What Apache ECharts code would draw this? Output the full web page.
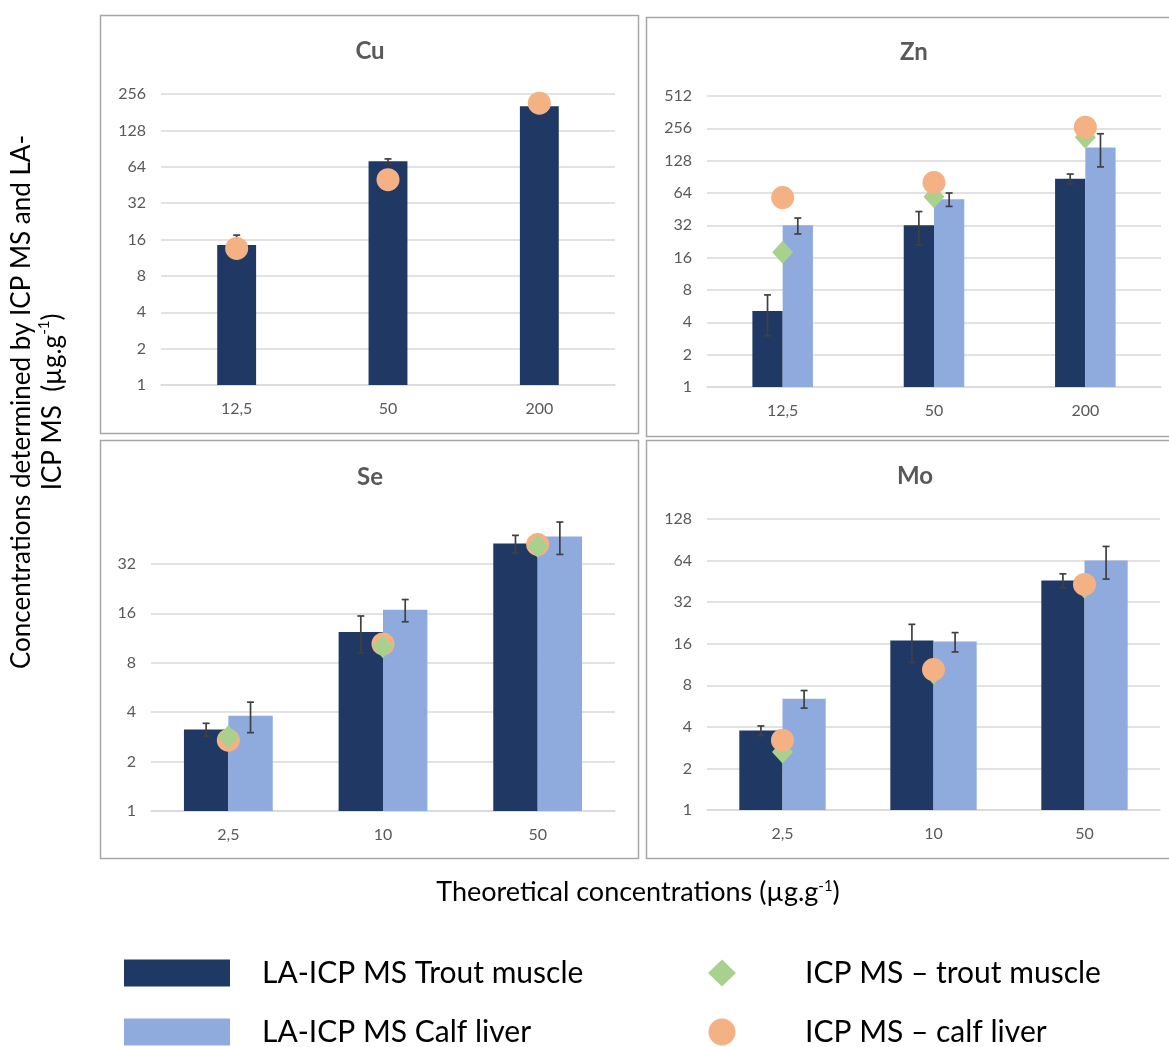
<!DOCTYPE html>
<html><head><meta charset="utf-8">
<script src="https://cdn.jsdelivr.net/npm/echarts@6/dist/echarts.min.js"></script>
<style>html,body{margin:0;padding:0;background:#fff}#c{width:1169px;height:1047px}</style>
</head><body><div id="c"></div>
<script>
// ---- data ----
const catsCuZn = ['12,5', '50', '200'];
const catsSeMo = ['2,5', '10', '50'];

const cuTrout = [14.4, 71, 203];
const cuTroutSd = [3.0, 3.3, 6];
const cuIcpCalf = [13.5, 50, 215];

const znTrout = [5.1, 32, 87];
const znTroutSd = [2.1, 11, 9];
const znCalf = [32, 56, 170];
const znCalfSd = [5.4, 8, 58];
const znIcpTrout = [18, 59, 212];
const znIcpCalf = [58, 80, 262];

const seTrout = [3.14, 12.3, 42.5];
const seTroutSd = [0.28, 3.1, 5.2];
const seCalf = [3.8, 16.8, 47];
const seCalfSd = [0.8, 2.6, 10.5];
const seIcpTrout = [2.83, 10.0, 41];
const seIcpCalf = [2.70, 10.4, 42];

const moTrout = [3.76, 16.9, 46];
const moTroutSd = [0.3, 5.2, 5.3];
const moCalf = [6.4, 16.6, 64];
const moCalfSd = [0.93, 2.65, 17];
const moIcpTrout = [2.63, 9.8, 41];
const moIcpCalf = [3.2, 10.4, 43];

const yMaxes = [256, 512, 60, 128];
const panelTitles = ['Cu', 'Zn', 'Se', 'Mo'];

// ---- styling ----
const FONT = 'Lato';
const NAVY = '#203864', LIGHT = '#8FAADC', GREEN = '#A9D18E', ORANGE = '#F4B183';
const GRID_C = '#D9D9D9', LABEL_C = '#595959', ERR_C = '#404040';
const N_TROUT = 'LA-ICP MS Trout muscle', N_CALF = 'LA-ICP MS Calf liver';
const N_ICP_T = 'ICP MS \u2013 trout muscle', N_ICP_C = 'ICP MS \u2013 calf liver';

const panels = [
  { cats: catsCuZn, grid: {left: 161, top: 94, width: 454, height: 291}, split: 8, frac: 0.257,
    trout: cuTrout, troutSd: cuTroutSd, calf: null, calfSd: null, icpT: null, icpC: cuIcpCalf,
    tpos: [370, 39], box: [100.5, 15.5, 538, 418], diamondTop: false },
  { cats: catsCuZn, grid: {left: 707, top: 96, width: 454, height: 291}, split: 9, frac: 0.20,
    trout: znTrout, troutSd: znTroutSd, calf: znCalf, calfSd: znCalfSd, icpT: znIcpTrout, icpC: znIcpCalf,
    tpos: [914, 40], box: [646.5, 17.5, 540, 419], diamondTop: false },
  { cats: catsSeMo, grid: {left: 151, top: 519, width: 464, height: 292}, split: 5, frac: 0.287,
    trout: seTrout, troutSd: seTroutSd, calf: seCalf, calfSd: seCalfSd, icpT: seIcpTrout, icpC: seIcpCalf,
    tpos: [370, 465], box: [100.5, 440.5, 538, 418], diamondTop: true },
  { cats: catsSeMo, grid: {left: 707, top: 519, width: 453, height: 291}, split: 7, frac: 0.286,
    trout: moTrout, troutSd: moTroutSd, calf: moCalf, calfSd: moCalfSd, icpT: moIcpTrout, icpC: moIcpCalf,
    tpos: [915, 464], box: [646.5, 440.5, 540, 418], diamondTop: false }
];

function errRender(offsetFrac) {
  return function (params, api) {
    const idx = api.value(0), v = api.value(1), sd = api.value(2);
    const band = api.coord([1, v])[0] - api.coord([0, v])[0];
    const x = api.coord([idx, v])[0] + offsetFrac * band;
    const yT = api.coord([idx, v + sd])[1];
    const yB = api.coord([idx, Math.max(v - sd, 1.0001)])[1];
    const c = 3.5;
    const st = {stroke: ERR_C, lineWidth: 1.7};
    return {type: 'group', children: [
      {type: 'line', shape: {x1: x, y1: yT, x2: x, y2: yB}, style: st},
      {type: 'line', shape: {x1: x - c, y1: yT, x2: x + c, y2: yT}, style: st},
      {type: 'line', shape: {x1: x - c, y1: yB, x2: x + c, y2: yB}, style: st}
    ]};
  };
}
function errData(vals, sds) { return vals.map((v, i) => [i, v, sds[i]]); }

const grids = [], xAxes = [], yAxes = [], series = [], titles = [], graphics = [];
panels.forEach((p, i) => {
  grids.push(p.grid);
  xAxes.push({type: 'category', gridIndex: i, data: p.cats,
    axisLine: {lineStyle: {color: GRID_C, width: 1.5}}, axisTick: {show: false},
    axisLabel: {color: LABEL_C, fontFamily: FONT, fontSize: 16, margin: 16}});
  yAxes.push({type: 'log', logBase: 2, gridIndex: i, min: 1, max: yMaxes[i], splitNumber: p.split,
    axisLine: {show: false}, axisTick: {show: false},
    axisLabel: {color: LABEL_C, fontFamily: FONT, fontSize: 16, margin: 15, showMaxLabel: i !== 2},
    splitLine: {show: true, showMaxLine: i !== 2, lineStyle: {color: GRID_C, width: 1.5}}});
  titles.push({text: panelTitles[i], left: p.tpos[0], top: p.tpos[1], textAlign: 'center', padding: 0,
    textStyle: {fontFamily: FONT, fontSize: 24, fontWeight: 'bold', color: LABEL_C}});
  graphics.push({type: 'rect', shape: {x: p.box[0], y: p.box[1], width: p.box[2], height: p.box[3]},
    style: {fill: 'none', stroke: '#A6A6A6', lineWidth: 1.5}, silent: true, z: -1});

  const two = !!p.calf;
  series.push({type: 'bar', name: N_TROUT, xAxisIndex: i, yAxisIndex: i, data: p.trout,
    barWidth: (p.frac * 100) + '%', barGap: '0%', itemStyle: {color: NAVY}, z: 2});
  if (two) series.push({type: 'bar', name: N_CALF, xAxisIndex: i, yAxisIndex: i, data: p.calf,
    barWidth: (p.frac * 100) + '%', barGap: '0%', itemStyle: {color: LIGHT}, z: 2});
  series.push({type: 'custom', name: N_TROUT, xAxisIndex: i, yAxisIndex: i,
    renderItem: errRender(two ? -p.frac / 2 : 0), data: errData(p.trout, p.troutSd),
    encode: {x: 0, y: 1}, z: 3, silent: true});
  if (two) series.push({type: 'custom', name: N_CALF, xAxisIndex: i, yAxisIndex: i,
    renderItem: errRender(p.frac / 2), data: errData(p.calf, p.calfSd),
    encode: {x: 0, y: 1}, z: 3, silent: true});
  if (p.icpT) series.push({type: 'scatter', name: N_ICP_T, xAxisIndex: i, yAxisIndex: i, data: p.icpT,
    symbol: 'diamond', symbolSize: [21, 23], itemStyle: {color: GREEN, opacity: 1}, z: p.diamondTop ? 6 : 4});
  series.push({type: 'scatter', name: N_ICP_C, xAxisIndex: i, yAxisIndex: i, data: p.icpC,
    symbol: 'circle', symbolSize: 23, itemStyle: {color: ORANGE, opacity: 1}, z: 5});
});

// axis titles
graphics.push({type: 'text', x: 37, y: 402, rotation: Math.PI / 2,
  style: {text: 'Concentrations determined by ICP MS and LA-\nICP MS  (\u00b5g.g{sup|-1})',
    rich: {sup: {fontSize: 15, verticalAlign: 'top', fontFamily: FONT, fill: '#000', padding: [0, 0, 10, 0]}},
    fontFamily: FONT, fontSize: 26, fill: '#000', align: 'center', verticalAlign: 'middle', lineHeight: 31}});
graphics.push({type: 'text', x: 638, y: 892,
  style: {text: 'Theoretical concentrations (\u00b5g.g{sup|-1})',
    rich: {sup: {fontSize: 15, verticalAlign: 'top', fontFamily: FONT, fill: '#000', padding: [0, 0, 10, 0]}},
    fontFamily: FONT, fontSize: 27, fill: '#000', align: 'center', verticalAlign: 'middle'}});

const chart = echarts.init(document.getElementById('c'), null, {renderer: 'canvas'});
chart.setOption({
  animation: false,
  backgroundColor: '#fff',
  title: titles,
  grid: grids,
  xAxis: xAxes,
  yAxis: yAxes,
  legend: [
    {orient: 'vertical', left: 124, top: 958, padding: 0, itemGap: 29, itemWidth: 106, itemHeight: 27,
      data: [{name: N_TROUT, icon: 'rect'}, {name: N_CALF, icon: 'rect'}],
      textStyle: {fontFamily: FONT, fontSize: 30, color: '#000', padding: [0, 0, 0, 27]}},
    {orient: 'vertical', left: 708, top: 958, padding: 0, itemGap: 29, itemWidth: 28, itemHeight: 27,
      data: [{name: N_ICP_T, icon: 'diamond'}, {name: N_ICP_C, icon: 'circle'}],
      textStyle: {fontFamily: FONT, fontSize: 30, color: '#000', padding: [0, 0, 0, 64]}}
  ],
  graphic: graphics,
  series: series
});
</script></body></html>
